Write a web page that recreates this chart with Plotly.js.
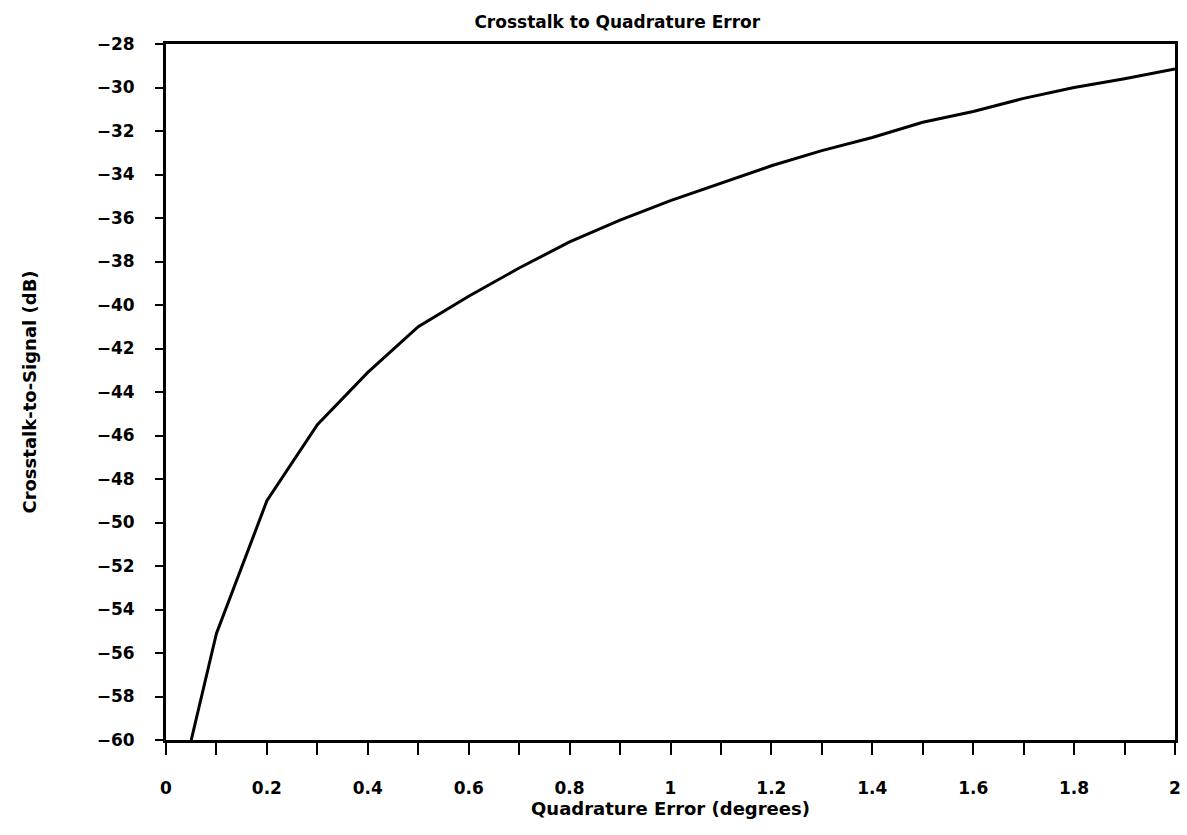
<!DOCTYPE html>
<html>
<head>
<meta charset="utf-8">
<script src="https://cdn.plot.ly/plotly-3.0.1.min.js"></script>
<style>html,body{margin:0;padding:0;background:#fff;}#chart{width:1187px;height:835px;}</style>
</head>
<body>
<div id="chart"></div>
<script>
// Quadrature error (degrees)
const quadratureError = [0.05, 0.1, 0.2, 0.3, 0.4, 0.5, 0.6, 0.7, 0.8, 0.9, 1.0,
  1.1, 1.2, 1.3, 1.4, 1.5, 1.6, 1.7, 1.8, 1.9, 2.0];
// Crosstalk-to-signal (dB)
const crosstalkDb = [-60, -55.1, -49.0, -45.5, -43.1, -41.0, -39.6, -38.3, -37.1, -36.1, -35.2,
  -34.4, -33.6, -32.9, -32.3, -31.6, -31.1, -30.5, -30.0, -29.6, -29.15];
const yTicks = [-28, -30, -32, -34, -36, -38, -40, -42, -44, -46, -48, -50, -52, -54, -56, -58, -60];

const FONT = 'DejaVu Sans, Arial, sans-serif';

Plotly.newPlot('chart', [{
  x: quadratureError,
  y: crosstalkDb,
  type: 'scatter',
  mode: 'lines',
  line: {color: '#000', width: 3},
  hoverinfo: 'skip',
  cliponaxis: true
}], {
  width: 1187, height: 835,
  paper_bgcolor: '#fff', plot_bgcolor: '#fff',
  showlegend: false,
  margin: {l: 166, r: 12, t: 44, b: 95},
  title: {
    text: 'Crosstalk to Quadrature Error',
    font: {family: FONT, size: 17, color: '#000', weight: 'bold'},
    xref: 'container', yref: 'container',
    x: 0.52, y: 0.973, xanchor: 'center', yanchor: 'middle'
  },
  xaxis: {
    range: [0, 2],
    dtick: 0.2, tick0: 0,
    showgrid: false, zeroline: false,
    showline: true, linecolor: '#000', linewidth: 3, mirror: true,
    ticks: 'outside', ticklen: 12, tickwidth: 2, tickcolor: '#000',
    minor: {dtick: 0.1, ticks: 'outside', ticklen: 12, tickwidth: 2, tickcolor: '#000', showgrid: false},
    ticklabelstandoff: 19,
    tickfont: {family: FONT, size: 17, color: '#000', weight: 'bold'},
    title: {text: 'Quadrature Error (degrees)', standoff: 2,
      font: {family: FONT, size: 18, color: '#000', weight: 'bold'}}
  },
  yaxis: {
    range: [-60, -28],
    tickvals: yTicks,
    showgrid: false, zeroline: false,
    showline: true, linecolor: '#000', linewidth: 3, mirror: true,
    ticks: 'outside', ticklen: 8, tickwidth: 2, tickcolor: '#000',
    ticklabelstandoff: 17,
    tickfont: {family: FONT, size: 17, color: '#000', weight: 'bold'},
    title: {text: 'Crosstalk-to-Signal (dB)', standoff: 56,
      font: {family: FONT, size: 18, color: '#000', weight: 'bold'}}
  }
}, {displayModeBar: false, staticPlot: true});
</script>
</body>
</html>
